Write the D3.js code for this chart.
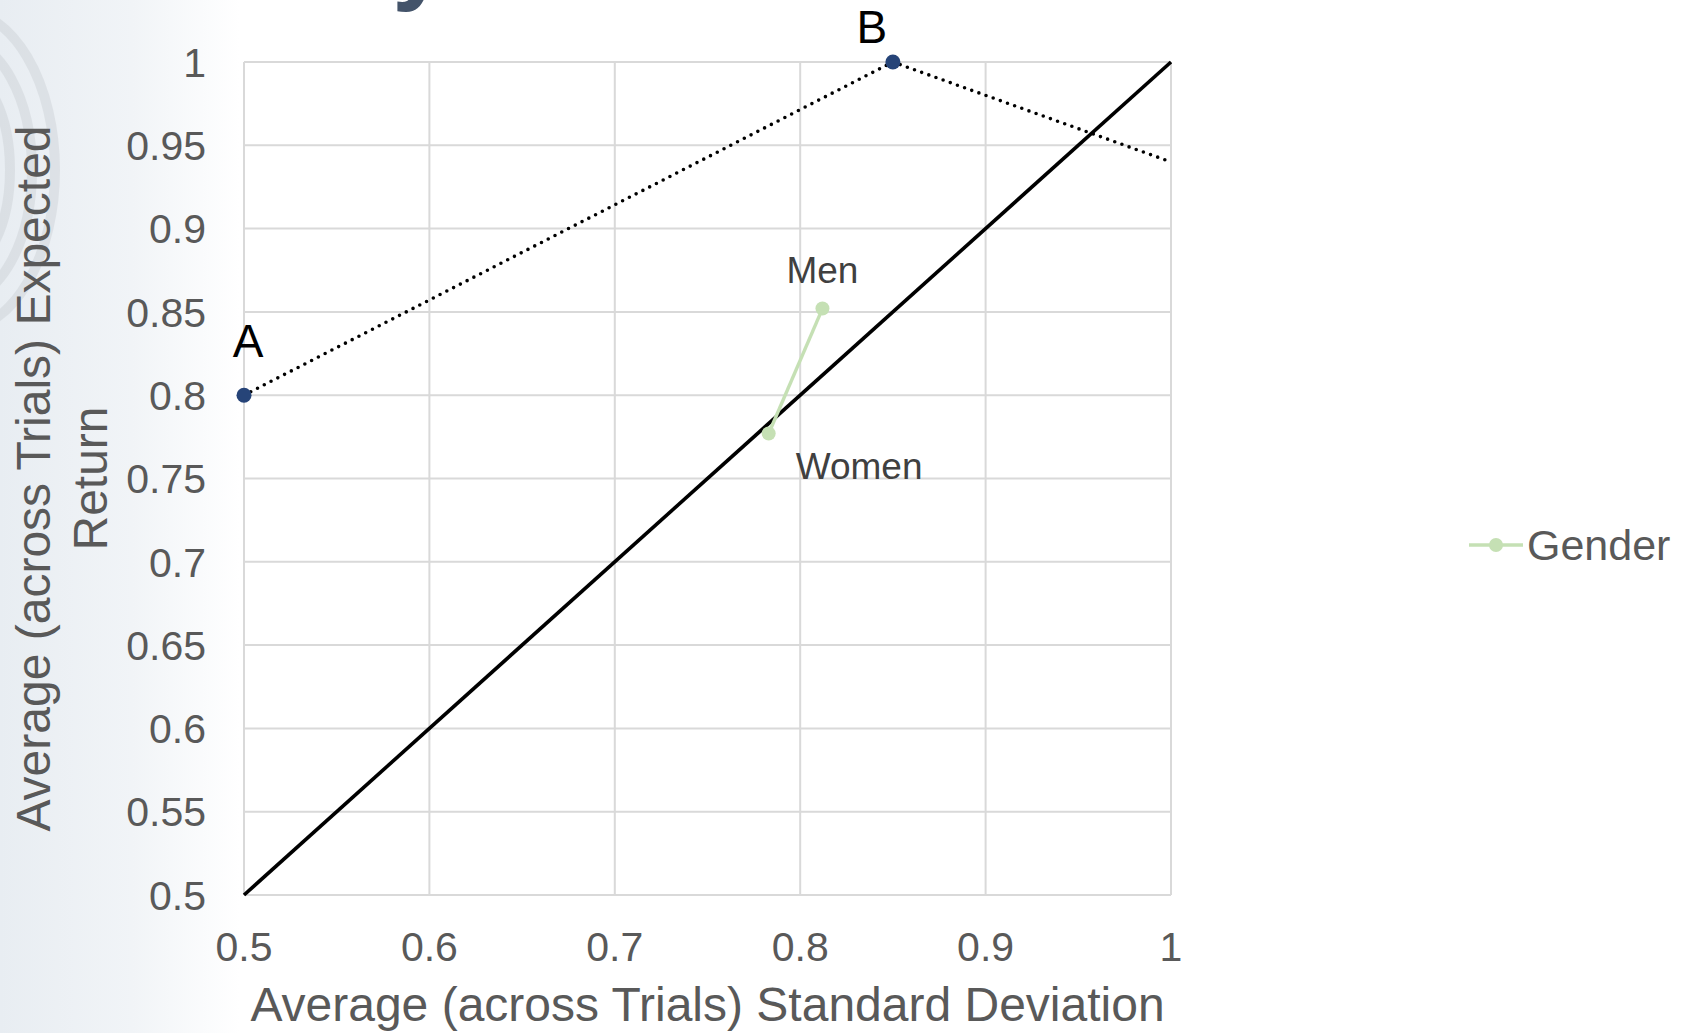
<!DOCTYPE html>
<html lang="en">
<head>
  <meta charset="UTF-8">
  <title>Risk vs Return by Gender</title>
  <style>
    body {
      margin: 0;
      background: #fff;
      font-family: "Liberation Sans", Arial, sans-serif;
    }
    svg { display: block; }
    .grid line {
      stroke: #d9d9d9;
      stroke-width: 2px;
    }
    .tick-label {
      font-size: 41px;
      fill: #595959;
    }
    .axis-title {
      font-size: 48px;
      fill: #595959;
    }
  </style>
</head>
<body>
  <svg id="chart" width="1686" height="1033"></svg>
  <script src="https://d3js.org/d3.v7.min.js"></script>
  <script>
    // tick values
    const xTicks = [0.5, 0.6, 0.7, 0.8, 0.9, 1];
    const yTicks = [0.5, 0.55, 0.6, 0.65, 0.7, 0.75, 0.8, 0.85, 0.9, 0.95, 1];

    // gender series (std dev, expected return)
    const genderNames = ["Women", "Men"];
    const genderX = [0.783, 0.812];
    const genderY = [0.777, 0.852];

    // dotted frontier through A and B
    const frontierX = [0.5, 0.85, 1.0];
    const frontierY = [0.8, 1.0, 0.94];
    const pointNames = ["A", "B"];

    // 45 degree reference line
    const diagX = [0.5, 1];
    const diagY = [0.5, 1];

    const svg = d3.select("#chart");

    // faded slide background on the left
    const defs = svg.append("defs");
    const grad = defs.append("linearGradient").attr("id", "bgfade")
      .attr("x1", "0%").attr("x2", "100%").attr("y1", "0%").attr("y2", "0%");
    grad.append("stop").attr("offset", "0%").attr("stop-color", "#e8edf2");
    grad.append("stop").attr("offset", "55%").attr("stop-color", "#f1f4f7");
    grad.append("stop").attr("offset", "100%").attr("stop-color", "#ffffff");
    svg.append("rect")
      .attr("x", 0).attr("y", 0).attr("width", 240).attr("height", 1033)
      .attr("fill", "url(#bgfade)");

    const swirl = svg.append("g").attr("opacity", 0.35);
    [[-40, 170, 95, 160], [-40, 170, 72, 130], [-40, 170, 50, 100]].forEach(([cx, cy, rx, ry]) => {
      swirl.append("ellipse")
        .attr("cx", cx).attr("cy", cy).attr("rx", rx).attr("ry", ry)
        .attr("fill", "none").attr("stroke", "#c3c8cd").attr("stroke-width", 10);
    });

    // clipped title glyph at the very top
    svg.append("text")
      .attr("x", 420).attr("y", -9)
      .attr("text-anchor", "middle")
      .style("font-size", "100px").style("font-weight", "bold")
      .attr("fill", "#44546a")
      .text("y");

    const x = d3.scaleLinear().domain([0.5, 1]).range([244, 1171]);
    const y = d3.scaleLinear().domain([0.5, 1]).range([895, 62]);
    const fmt = d => String(+d.toFixed(2));

    const grid = svg.append("g").attr("class", "grid");
    grid.selectAll(".gy").data(yTicks).join("line")
      .attr("x1", x(0.5)).attr("x2", x(1))
      .attr("y1", d => y(d)).attr("y2", d => y(d));
    grid.selectAll(".gx").data(xTicks).join("line")
      .attr("class", "gx")
      .attr("x1", d => x(d)).attr("x2", d => x(d))
      .attr("y1", y(0.5)).attr("y2", y(1));

    svg.append("g").selectAll("text").data(yTicks).join("text")
      .attr("class", "tick-label")
      .attr("x", x(0.5) - 38)
      .attr("y", d => y(d))
      .attr("dy", "0.36em")
      .attr("text-anchor", "end")
      .text(fmt);

    svg.append("g").selectAll("text").data(xTicks).join("text")
      .attr("class", "tick-label")
      .attr("x", d => x(d))
      .attr("y", 961)
      .attr("text-anchor", "middle")
      .text(fmt);

    svg.append("text")
      .attr("class", "axis-title")
      .attr("x", (x(0.5) + x(1)) / 2)
      .attr("y", 1021)
      .attr("text-anchor", "middle")
      .text("Average (across Trials) Standard Deviation");

    const ytitle = svg.append("text")
      .attr("class", "axis-title")
      .attr("transform", `translate(50,${(y(0.5) + y(1)) / 2}) rotate(-90)`)
      .attr("text-anchor", "middle");
    ytitle.append("tspan").attr("x", 0).attr("y", 0).text("Average (across Trials) Expected");
    ytitle.append("tspan").attr("x", 0).attr("y", 57).text("Return");

    const line = d3.line().x(d => x(d[0])).y(d => y(d[1]));

    // diagonal
    svg.append("path")
      .datum(diagX.map((v, i) => [v, diagY[i]]))
      .attr("d", line)
      .attr("fill", "none")
      .attr("stroke", "#000")
      .attr("stroke-width", 3.6);

    // dotted frontier
    const frontier = frontierX.map((v, i) => [v, frontierY[i]]);
    svg.append("path")
      .datum(frontier)
      .attr("d", line)
      .attr("fill", "none")
      .attr("stroke", "#000")
      .attr("stroke-width", 3.6)
      .attr("stroke-linecap", "round")
      .attr("stroke-dasharray", "0 7.6");

    svg.append("g").selectAll("circle").data(frontier.slice(0, 2)).join("circle")
      .attr("cx", d => x(d[0])).attr("cy", d => y(d[1]))
      .attr("r", 7.5)
      .attr("fill", "#264478");

    const abOffsets = [[4, -38], [-21, -19]];
    svg.append("g").selectAll("text").data(frontier.slice(0, 2)).join("text")
      .attr("x", (d, i) => x(d[0]) + abOffsets[i][0])
      .attr("y", (d, i) => y(d[1]) + abOffsets[i][1])
      .attr("text-anchor", "middle")
      .style("font-size", "46px")
      .attr("fill", "#000")
      .text((d, i) => pointNames[i]);

    // gender series
    const gender = genderX.map((v, i) => [v, genderY[i]]);
    svg.append("path")
      .datum(gender)
      .attr("d", line)
      .attr("fill", "none")
      .attr("stroke", "#c5e0b4")
      .attr("stroke-width", 3.4);
    svg.append("g").selectAll("circle").data(gender).join("circle")
      .attr("cx", d => x(d[0])).attr("cy", d => y(d[1]))
      .attr("r", 7)
      .attr("fill", "#c5e0b4");

    const gOffsets = [[27, 45], [0, -26]];
    const gAnchors = ["start", "middle"];
    svg.append("g").selectAll("text").data(gender).join("text")
      .attr("x", (d, i) => x(d[0]) + gOffsets[i][0])
      .attr("y", (d, i) => y(d[1]) + gOffsets[i][1])
      .attr("text-anchor", (d, i) => gAnchors[i])
      .style("font-size", "37px")
      .attr("fill", "#404040")
      .text((d, i) => genderNames[i]);

    // legend
    const legend = svg.append("g").attr("transform", "translate(1469,545)");
    legend.append("line")
      .attr("x1", 0).attr("x2", 54)
      .attr("stroke", "#c5e0b4").attr("stroke-width", 3.5);
    legend.append("circle").attr("cx", 27).attr("r", 7).attr("fill", "#c5e0b4");
    legend.append("text")
      .attr("x", 58).attr("dy", "0.36em")
      .style("font-size", "43px")
      .attr("fill", "#595959")
      .text("Gender");
  </script>
</body>
</html>
